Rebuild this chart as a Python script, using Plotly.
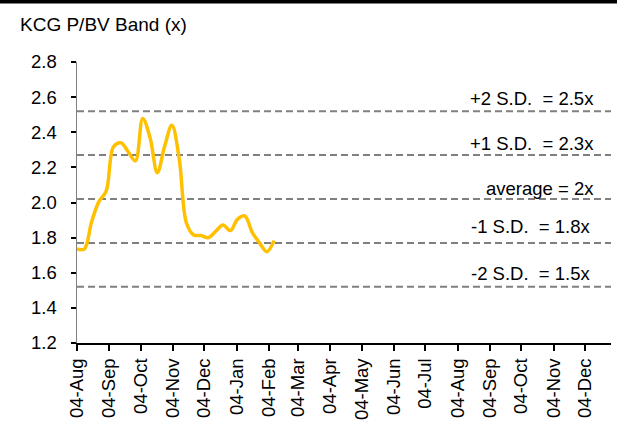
import plotly.graph_objects as go

# ---- data ----
dates = ["2021-08-04", "2021-08-11", "2021-08-18", "2021-08-25", "2021-09-01", "2021-09-08",
         "2021-09-15", "2021-09-22", "2021-09-29", "2021-10-06", "2021-10-13", "2021-10-20",
         "2021-10-27", "2021-11-03", "2021-11-10", "2021-11-17", "2021-11-24", "2021-12-01",
         "2021-12-08", "2021-12-15", "2021-12-22", "2021-12-29", "2022-01-05", "2022-01-12",
         "2022-01-19", "2022-01-26", "2022-02-02", "2022-02-09"]
pbv = [1.735, 1.735, 1.89, 2.005, 2.065, 2.317, 2.34, 2.29, 2.237, 2.478, 2.37, 2.17,
       2.32, 2.44, 2.25, 1.882, 1.815, 1.812, 1.80, 1.836, 1.872, 1.84, 1.905, 1.923,
       1.83, 1.77, 1.72, 1.783]
band_values = [2.52, 2.27, 2.02, 1.77, 1.52]
band_labels = ["+2 S.D.\u00a0 = 2.5x", "+1 S.D.\u00a0 = 2.3x", "average = 2x",
               "-1 S.D.\u00a0 = 1.8x", "-2 S.D.\u00a0 = 1.5x"]
x_range = ["2021-08-04", "2022-12-29"]
y_ticks = [1.2, 1.4, 1.6, 1.8, 2.0, 2.2, 2.4, 2.6, 2.8]
title_text = "KCG P/BV Band (x)"

# ---- layout helpers (positions/styles) ----
label_y_offsets = [0.072, 0.066, 0.061, 0.093, 0.078]
label_x = [0.972, 0.972, 0.972, 0.967, 0.967]
FONT = "Liberation Sans, Arial, sans-serif"
FS = 18.5

fig = go.Figure()

for v in band_values:
    fig.add_trace(go.Scatter(
        x=x_range, y=[v, v], mode="lines",
        line=dict(color="#808080", width=2, dash="7px,4px"),
        hoverinfo="skip", showlegend=False))

fig.add_trace(go.Scatter(
    x=dates, y=pbv, mode="lines",
    line=dict(color="#FFC000", width=3.5, shape="spline", smoothing=1),
    showlegend=False))

annotations = []
for v, lab, off, lx in zip(band_values, band_labels, label_y_offsets, label_x):
    annotations.append(dict(
        x=lx, xref="paper", y=v + off, yref="y",
        text=lab, showarrow=False, xanchor="right", yanchor="middle",
        font=dict(family=FONT, size=FS, color="#000000")))

annotations.append(dict(
    x=-0.111, xref="paper", y=1.133, yref="paper",
    text=title_text, showarrow=False, xanchor="left", yanchor="middle",
    font=dict(family=FONT, size=FS + 0.5, color="#000000")))

fig.update_layout(
    width=617, height=443,
    margin=dict(l=77, r=6, t=62, b=100, pad=0),
    paper_bgcolor="white", plot_bgcolor="white",
    font=dict(family=FONT, size=FS, color="#000000"),
    annotations=annotations,
    shapes=[dict(type="line", xref="paper", yref="paper",
                 x0=-0.15, x1=1.02, y0=1.214, y1=1.214,
                 line=dict(color="#000000", width=3.5))],
    xaxis=dict(
        type="date", range=x_range,
        tick0="2021-08-04", dtick="M1", tickformat="%d-%b",
        tickangle=-90, ticks="outside", ticklen=6, tickwidth=2, tickcolor="#000000",
        showline=True, linecolor="#000000", linewidth=2,
        showgrid=False, zeroline=False,
        tickfont=dict(family=FONT, size=FS, color="#000000")),
    yaxis=dict(
        range=[1.2, 2.8], tickvals=y_ticks, tickformat=".1f",
        ticks="outside", ticklen=5, tickwidth=2, tickcolor="#000000",
        showline=True, linecolor="#808080", linewidth=1.5,
        showgrid=False, zeroline=False, ticklabelstandoff=10,
        tickfont=dict(family=FONT, size=FS, color="#000000")),
)

fig.write_html("out.html", config={"displayModeBar": False, "staticPlot": True},
               post_script="document.body.style.margin='0';")
